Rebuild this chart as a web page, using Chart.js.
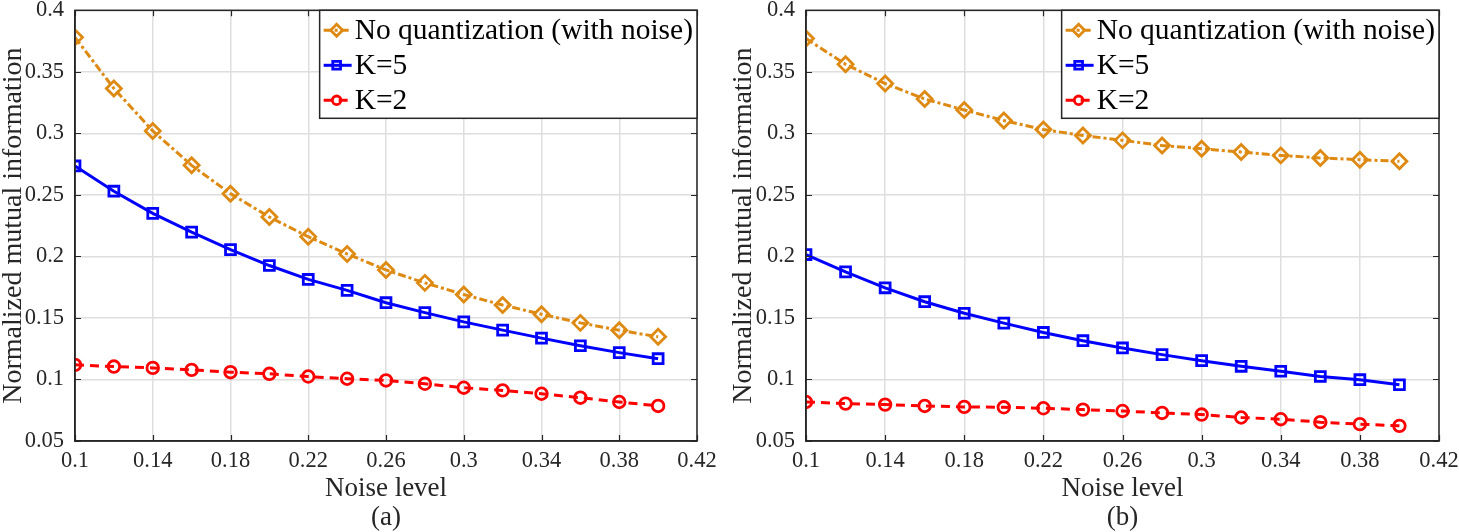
<!DOCTYPE html>
<html>
<head>
<meta charset="utf-8">
<script src="https://cdn.jsdelivr.net/npm/chart.js@4.4.1/dist/chart.umd.min.js"></script>
<style>
  html, body { margin: 0; padding: 0; background: #ffffff; }
  body { width: 1459px; height: 532px; position: relative; overflow: hidden; }
  .panel { position: absolute; top: 0; }
  canvas { display: block; }
</style>
</head>
<body>
<div class="panel" style="left:0px"><canvas id="chartA" width="730" height="532"></canvas></div>
<div class="panel" style="left:730px"><canvas id="chartB" width="729" height="532"></canvas></div>
<script>
// ---- data ----
const noiseLevels = [0.10, 0.12, 0.14, 0.16, 0.18, 0.20, 0.22, 0.24, 0.26, 0.28, 0.30, 0.32, 0.34, 0.36, 0.38, 0.40];
const xTickValues = [0.1, 0.14, 0.18, 0.22, 0.26, 0.3, 0.34, 0.38, 0.42];
const yTickValues = [0.05, 0.1, 0.15, 0.2, 0.25, 0.3, 0.35, 0.4];
const seriesLabels = ['No quantization (with noise)', 'K=5', 'K=2'];
const xAxisTitle = 'Noise level';
const yAxisTitle = 'Normalized mutual information';
const panelLabels = ['(a)', '(b)'];

// panel (a)
const aNoQuant = [0.378, 0.3365, 0.302, 0.274, 0.251, 0.232, 0.216, 0.202, 0.189, 0.1785, 0.169, 0.1605, 0.153, 0.146, 0.140, 0.1347];
const aK5      = [0.2735, 0.253, 0.235, 0.2197, 0.2055, 0.1926, 0.1813, 0.1724, 0.1624, 0.1543, 0.1468, 0.1401, 0.1336, 0.1274, 0.1218, 0.1169];
const aK2      = [0.1119, 0.1105, 0.1094, 0.1078, 0.1059, 0.1046, 0.1024, 0.1006, 0.0992, 0.0965, 0.0933, 0.0911, 0.0884, 0.0852, 0.0817, 0.0785];
// panel (b)
const bNoQuant = [0.3771, 0.3561, 0.3405, 0.3279, 0.319, 0.3104, 0.3031, 0.2983, 0.2943, 0.2902, 0.2875, 0.2848, 0.2821, 0.280, 0.2786, 0.2773];
const bK5      = [0.2015, 0.1874, 0.1745, 0.1632, 0.1538, 0.1458, 0.1382, 0.1315, 0.1256, 0.1202, 0.1153, 0.1107, 0.1067, 0.1024, 0.0998, 0.0957];
const bK2      = [0.0817, 0.0804, 0.0796, 0.0785, 0.0777, 0.0774, 0.0766, 0.0755, 0.0744, 0.0728, 0.0715, 0.0691, 0.0677, 0.0653, 0.0637, 0.0623];

// ---- styling ----
const SERIF = "'Liberation Serif', 'Times New Roman', Times, serif";
const AXIS_COLOR = '#262626';
const GRID_COLOR = '#dedede';
const ORANGE = '#DE8A12';
const BLUE = '#0000FF';
const RED = '#FF0000';

function fmt(v) { return String(Number(v.toFixed(2))); }

function pts(values) { return noiseLevels.map((x, i) => ({ x: x, y: values[i] })); }

function makeDatasets(noQuant, k5, k2) {
  return [
    { label: seriesLabels[0], data: pts(noQuant), borderColor: ORANGE, borderWidth: 3,
      borderDash: [8, 3, 3, 3], pointStyle: 'rectRot', pointRadius: 7.5, pointBorderWidth: 2.8,
      pointBorderColor: ORANGE, pointBackgroundColor: 'rgba(255,255,255,0)', tension: 0 },
    { label: seriesLabels[1], data: pts(k5), borderColor: BLUE, borderWidth: 3,
      pointStyle: 'rect', pointRadius: 7, pointBorderWidth: 2.8,
      pointBorderColor: BLUE, pointBackgroundColor: 'rgba(255,255,255,0)', tension: 0 },
    { label: seriesLabels[2], data: pts(k2), borderColor: RED, borderWidth: 3,
      borderDash: [9, 6], pointStyle: 'circle', pointRadius: 5.8, pointBorderWidth: 2.8,
      pointBorderColor: RED, pointBackgroundColor: 'rgba(255,255,255,0)', tension: 0 }
  ];
}

// box, inward ticks and legend plugin
const matlabAxesPlugin = {
  id: 'matlabAxes',
  afterDatasetsDraw(chart) {
    const ctx = chart.ctx;
    const a = chart.chartArea;
    const xs = chart.scales.x, ys = chart.scales.y;
    const tl = 6;
    ctx.save();
    // inward tick marks
    ctx.strokeStyle = AXIS_COLOR;
    ctx.lineWidth = 1.2;
    ctx.beginPath();
    xs.ticks.forEach((t, i) => {
      const px = Math.round(xs.getPixelForTick(i)) + 0.5;
      ctx.moveTo(px, a.bottom); ctx.lineTo(px, a.bottom - tl);
      ctx.moveTo(px, a.top); ctx.lineTo(px, a.top + tl);
    });
    ys.ticks.forEach((t, i) => {
      const py = Math.round(ys.getPixelForTick(i)) + 0.5;
      ctx.moveTo(a.left, py); ctx.lineTo(a.left + tl, py);
      ctx.moveTo(a.right, py); ctx.lineTo(a.right - tl, py);
    });
    ctx.stroke();
    // box
    ctx.lineWidth = 1.5;
    ctx.strokeRect(a.left, a.top, a.right - a.left, a.bottom - a.top);

    // legend
    ctx.font = '29.5px ' + SERIF;
    let maxW = 0;
    chart.data.datasets.forEach(ds => { maxW = Math.max(maxW, ctx.measureText(ds.label).width); });
    const textOff = 35;
    const boxW = textOff + maxW + 4;
    const boxH = 108;
    const bx = a.right - boxW, by = a.top;
    ctx.fillStyle = '#ffffff';
    ctx.fillRect(bx, by, boxW, boxH);
    ctx.strokeStyle = AXIS_COLOR;
    ctx.lineWidth = 1.5;
    ctx.strokeRect(bx, by, boxW, boxH);
    chart.data.datasets.forEach((ds, i) => {
      const cy = by + 20 + i * 35;
      ctx.save();
      ctx.strokeStyle = ds.borderColor;
      ctx.lineWidth = ds.borderWidth;
      ctx.setLineDash(ds.borderDash || []);
      ctx.beginPath();
      ctx.moveTo(bx + 4, cy); ctx.lineTo(bx + 32, cy);
      ctx.stroke();
      ctx.setLineDash([]);
      ctx.lineWidth = ds.pointBorderWidth;
      ctx.fillStyle = ds.pointBackgroundColor;
      Chart.helpers.drawPoint(ctx, { pointStyle: ds.pointStyle, radius: ds.pointRadius - 1.5, borderWidth: ds.pointBorderWidth, rotation: 0 }, bx + 17, cy);
      ctx.restore();
      ctx.fillStyle = '#000000';
      ctx.textAlign = 'left';
      ctx.textBaseline = 'middle';
      ctx.fillText(ds.label, bx + textOff, cy + 1);
    });
    ctx.restore();
  }
};

function zeroPad(scale) {
  scale.paddingLeft = 0; scale.paddingRight = 0; scale.paddingTop = 0; scale.paddingBottom = 0;
}

function makeChart(id, datasets, panelLabel, rightPad, yAxisWidth) {
  return new Chart(document.getElementById(id), {
    type: 'line',
    data: { datasets: datasets },
    plugins: [matlabAxesPlugin],
    options: {
      responsive: false,
      animation: false,
      devicePixelRatio: 1,
      layout: { padding: { left: 0, top: 7, right: rightPad, bottom: 0 } },
      plugins: { legend: { display: false }, tooltip: { enabled: false } },
      scales: {
        x: {
          type: 'linear', min: 0.1, max: 0.42,
          afterBuildTicks(scale) { scale.ticks = xTickValues.map(v => ({ value: v })); },
          afterFit(scale) { scale.height = 91; zeroPad(scale); },
          ticks: { padding: 7, color: AXIS_COLOR, font: { family: SERIF, size: 22.5 },
                   maxRotation: 0, autoSkip: false, callback: v => fmt(v) },
          grid: { color: GRID_COLOR, lineWidth: 1.5, drawTicks: false },
          border: { display: true, color: AXIS_COLOR, width: 1.5 },
          title: { display: true, text: [xAxisTitle, panelLabel], color: AXIS_COLOR,
                   font: { family: SERIF, size: 27, lineHeight: 29 / 27 }, padding: { top: 0, bottom: 0 } }
        },
        y: {
          type: 'linear', min: 0.05, max: 0.4,
          afterBuildTicks(scale) { scale.ticks = yTickValues.map(v => ({ value: v })); },
          afterFit(scale) { scale.width = yAxisWidth; zeroPad(scale); },
          ticks: { padding: 11, color: AXIS_COLOR, font: { family: SERIF, size: 22.5 },
                   autoSkip: false, callback: v => fmt(v) },
          grid: { color: GRID_COLOR, lineWidth: 1.5, drawTicks: false },
          border: { display: true, color: AXIS_COLOR, width: 1.5 },
          title: { display: true, text: yAxisTitle, color: AXIS_COLOR,
                   font: { family: SERIF, size: 28, lineHeight: 1 }, padding: { top: 0, bottom: 0 } }
        }
      }
    }
  });
}

makeChart('chartA', makeDatasets(aNoQuant, aK5, aK2), panelLabels[0], 33, 75);
makeChart('chartB', makeDatasets(bNoQuant, bK5, bK2), panelLabels[1], 20, 76);
</script>
</body>
</html>
